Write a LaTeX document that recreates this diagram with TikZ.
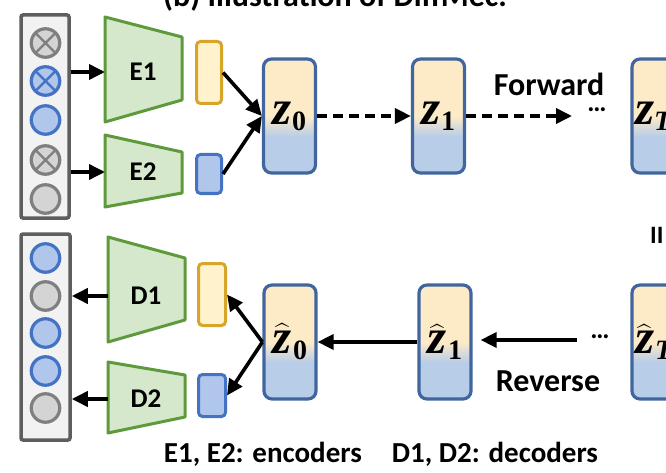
\RequirePackage{fix-cm}
\documentclass[tikz,border=0pt]{standalone}
\usepackage{amsmath}
\usepackage{fontspec}
\setmainfont{Carlito}
\newfontfamily\zfont{Liberation Serif}
\usetikzlibrary{arrows.meta,calc}
\definecolor{boxgray}{HTML}{5E5E5E}
\definecolor{boxfill}{HTML}{F2F2F2}
\definecolor{cgrayd}{HTML}{7F7F7F}
\definecolor{cgrayf}{HTML}{D4D4D4}
\definecolor{cblued}{HTML}{4472C4}
\definecolor{cbluef}{HTML}{B0C6EA}
\definecolor{greend}{HTML}{5E9A3C}
\definecolor{greenf}{HTML}{D5E8CC}
\definecolor{goldd}{HTML}{D6A52A}
\definecolor{goldf}{HTML}{FFF2CC}
\definecolor{zd}{HTML}{41669E}
\definecolor{zor}{HTML}{FDEBC8}
\definecolor{zbl}{HTML}{B8CDE8}
\pgfdeclareverticalshading{zshade}{100bp}{color(0bp)=(zbl); color(41bp)=(zbl); color(50bp)=(zor); color(100bp)=(zor)}
\newcommand{\zsub}[1]{\raisebox{-6pt}{\fontsize{28}{30}\selectfont\bfseries #1}}
\newcommand{\zl}[1]{\raisebox{-4pt}{{\zfont\bfseries\itshape z\/}{\zfont\zsub{#1}}}}
\newcommand{\zhl}[1]{\raisebox{-4pt}{$\widehat{\text{\zfont\bfseries\itshape z}}$\kern1pt{\zfont\zsub{#1}}}}
\tikzset{
  inbox/.style={draw=boxgray, fill=boxfill, line width=3.5pt, rounded corners=2pt, inner sep=0pt},
  gc/.style={circle, draw=cgrayd, fill=cgrayf, line width=3.2pt, minimum size=28.5pt, inner sep=0pt},
  bc/.style={gc, draw=cblued, fill=cbluef},
  xmark/.style={path picture={\draw[line width=2.4pt,#1] (path picture bounding box.north west) -- (path picture bounding box.south east) (path picture bounding box.north east) -- (path picture bounding box.south west);}},
  enc/.style={draw=greend, fill=greenf, line width=3pt, line join=round},
  lab/.style={font=\fontsize{27}{30}\selectfont\bfseries, inner sep=0pt},
  txt/.style={font=\fontsize{32}{36}\selectfont\bfseries, inner sep=0pt},
  orect/.style={draw=goldd, fill=goldf, line width=3pt, rounded corners=4pt, inner sep=0pt, minimum width=25pt},
  brect/.style={draw=cblued, fill=cbluef, line width=3pt, rounded corners=4pt, inner sep=0pt, minimum width=25pt},
  zbox/.style={draw=zd, shade, shading=zshade, line width=3.2pt, rounded corners=8pt, inner sep=0pt, minimum width=52pt, minimum height=114pt, font=\fontsize{49}{52}\selectfont},
  arr/.style={line width=3.6pt, -{Triangle[length=16pt,width=15pt]}},
  darr/.style={arr, dash pattern=on 10pt off 6pt},
}
\begin{document}
\begin{tikzpicture}[x=1pt,y=-1pt]
\useasboundingbox (0,0) rectangle (666,473);
\clip (0,0) rectangle (666,473);
% title (cut off at top)
\node[txt, anchor=base west] (title) at (163,7) {(b) Illustration of DiffMec.};
% input boxes
\node[inbox, minimum width=48pt, minimum height=203pt] (inA) at (45,116.5) {};
\node[inbox, minimum width=49pt, minimum height=206pt] (inB) at (45.5,337) {};
% top circles
\node[gc, xmark=cgrayd] (c1) at (45.5,43) {};
\node[bc, xmark=cblued] (c2) at (45.5,81) {};
\node[bc] (c3) at (45.5,120) {};
\node[gc, xmark=cgrayd] (c4) at (45.5,160) {};
\node[gc] (c5) at (45.5,199) {};
% bottom circles
\node[bc] (c6) at (45.5,258) {};
\node[gc] (c7) at (45.5,296) {};
\node[bc] (c8) at (45.5,333) {};
\node[bc] (c9) at (45.5,371) {};
\node[gc] (c10) at (45.5,408) {};
% encoders
\draw[enc] (105,17) -- (182,37) -- (182,100) -- (105,122) -- cycle;
\draw[enc] (105,135) -- (182,152) -- (182,193) -- (105,207) -- cycle;
\node[lab] (e1) at (143,72) {E1};
\node[lab] (e2) at (143,172) {E2};
\coordinate (e1in) at (105,72);
\coordinate (e2in) at (105,172);
% decoders
\draw[enc] (108,237) -- (185,258) -- (185,320) -- (108,342) -- cycle;
\draw[enc] (108,362) -- (185,375) -- (185,417) -- (108,433) -- cycle;
\node[lab] (d1) at (146,296) {D1};
\node[lab] (d2) at (146,399) {D2};
\coordinate (d1out) at (108,296);
\coordinate (d2out) at (108,399);
% latent pieces
\node[orect, minimum height=62pt] (o1) at (209,72.5) {};
\node[brect, minimum height=39pt] (b1) at (209,174) {};
\node[orect, minimum height=62pt, minimum width=27pt] (o2) at (212,294.5) {};
\node[brect, minimum height=42pt, minimum width=27pt] (b2) at (212,395.5) {};
% z boxes
\node[zbox] (z0) at (289.5,116) {\zl{0}};
\node[zbox] (z1) at (438.5,116) {\zl{1}};
\node[zbox, minimum width=58pt, text width=52pt, align=left] (zT) at (661,116) {\zl{\itshape T}};
\node[zbox] (h0) at (290,342) {\zhl{0}};
\node[zbox] (h1) at (445,342) {\zhl{1}};
\node[zbox, minimum width=58pt, text width=52pt, align=left] (hT) at (661,342) {\zhl{\itshape T}};
% texts
\node[txt] (fwd) at (549,84) {Forward};
\node[txt] (rev) at (548,381) {Reverse};
\node[lab] (dots1) at (597,110) {…};
\node[lab] (dots2) at (600,337) {…};
\node[font=\fontsize{25}{28}\selectfont\bfseries, anchor=base west, inner sep=0pt] (iii) at (650,243) {II};
\node[font=\fontsize{29}{32}\selectfont\bfseries, anchor=base, inner sep=0pt] (cap) at (381,462) {E1, E2: encoders\hspace{30pt}D1, D2: decoders};
\coordinate (fwdend) at (572,116);
\coordinate (revstart) at (577,340);
% connectors
\draw[arr] (inA.east |- e1in) -- (e1in);
\draw[arr] (inA.east |- e2in) -- (e2in);
\draw[arr] (d1out) -- (inB.east |- d1out);
\draw[arr] (d2out) -- (inB.east |- d2out);
\draw[arr] (o1.east) -- (z0.west);
\draw[arr] (b1.east) -- (z0.west);
\draw[darr] (z0.east) -- (z1.west);
\draw[darr] (z1.east) -- (fwdend);
\draw[arr] (h0.west) -- (o2.east);
\draw[arr] (h0.west) -- (b2.east);
\draw[arr] (h1.west) -- (h0.east);
\draw[arr, shorten >=8pt] (revstart) -- (h1.east |- revstart);
\end{tikzpicture}
\end{document}
